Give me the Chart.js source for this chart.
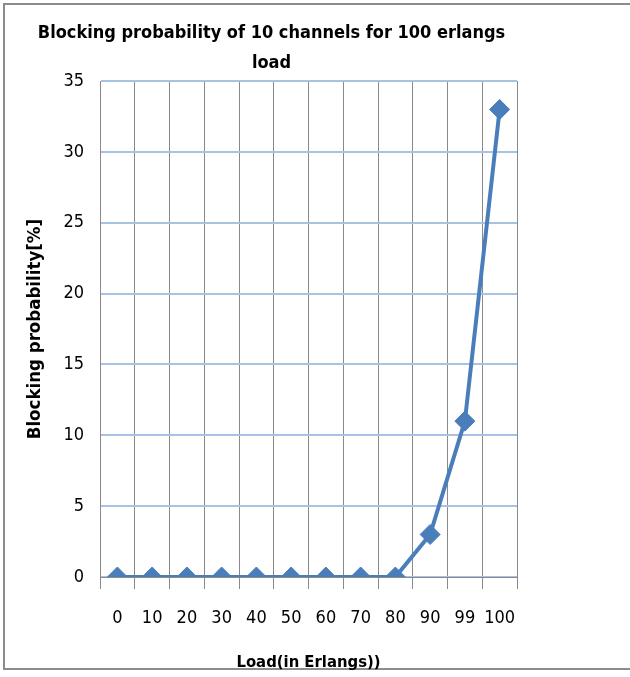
<!DOCTYPE html>
<html>
<head>
<meta charset="utf-8">
<script src="https://cdn.jsdelivr.net/npm/chart.js@4/dist/chart.umd.min.js"></script>
<style>
  html, body { margin: 0; padding: 0; background: #fff; overflow: hidden; }
  #frame { position: absolute; left: 3px; top: 3px; width: 640px; height: 667px; border: 2px solid #8c8c8c; box-sizing: border-box; }
  #wrap { position: absolute; left: 0; top: 0; width: 630px; height: 677px; }
</style>
</head>
<body>
<div id="frame"></div>
<div id="wrap"><canvas id="chart" width="630" height="677"></canvas></div>
<script>
const loads = ["0", "10", "20", "30", "40", "50", "60", "70", "80", "90", "99", "100"];
const blocking = [0, 0, 0, 0, 0, 0, 0, 0, 0, 3, 11, 33];
const yMin = 0, yMax = 35, yStep = 5;

const font = "'DejaVu Sans Condensed', sans-serif";
const blue = "#4a7ebb";

new Chart(document.getElementById("chart").getContext("2d"), {
    type: "line",
    data: {
        labels: loads,
        datasets: [{
            data: blocking,
            borderColor: blue,
            backgroundColor: blue,
            borderWidth: 4,
            tension: 0,
            pointStyle: "rectRot",
            pointRadius: 10,
            pointBorderWidth: 1,
            pointBorderColor: blue,
        }],
    },
    options: {
        responsive: false,
        animation: false,
        layout: { padding: { left: 26, right: 113, top: 11, bottom: 0 } },
        plugins: {
            legend: { display: false },
            tooltip: { enabled: false },
            title: {
                display: true,
                text: ["Blocking probability of 10 channels for 100 erlangs", "load"],
                color: "#000",
                font: { family: font, size: 18, weight: "bold", lineHeight: 1.67 },
                padding: { top: 7, bottom: 3 },
            },
        },
        scales: {
            x: {
                offset: true,
                grid: { offset: true, color: "#8a8a8a", tickLength: 12, drawTicks: true },
                border: { color: "#8a8a8a" },
                ticks: { color: "#000", padding: 19, maxRotation: 0, autoSkip: false, font: { family: font, size: 18 } },
                title: { display: true, text: "Load(in Erlangs))", color: "#000", font: { family: font, size: 16.5, weight: "bold" }, padding: { top: 14 } },
                afterFit: function (scale) { scale.height = 100; },
            },
            y: {
                min: yMin,
                max: yMax,
                ticks: { stepSize: yStep, color: "#000", padding: 16, font: { family: font, size: 18 } },
                grid: { color: "#a9c1e3", lineWidth: 2, tickLength: 0 },
                border: { color: "#8a8a8a" },
                title: { display: true, text: "Blocking probability[%]", color: "#000", font: { family: font, size: 18.5, weight: "bold" }, padding: { top: -2, bottom: 0 } },
                afterFit: function (scale) { scale.width = 74; },
            },
        },
    },
});
</script>
</body>
</html>
